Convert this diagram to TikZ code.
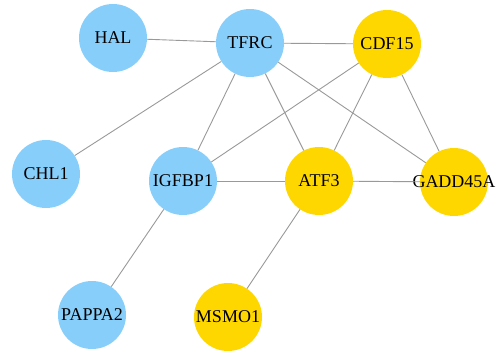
\documentclass[tikz,border=0pt]{standalone}
\usepackage{fontspec}
\setmainfont{Liberation Serif}
\usepackage{tikz}
\usetikzlibrary{shapes}
\definecolor{geneblue}{HTML}{87CEFA}
\definecolor{geneyellow}{HTML}{FFD700}
\tikzstyle{gene} = [circle, minimum size=68pt, inner sep=0pt, font=\fontsize{18}{21}\selectfont]
\tikzstyle{down} = [gene, fill=geneblue]
\tikzstyle{up} = [gene, fill=geneyellow]
\tikzstyle{link} = [draw=black!40, line width=0.9pt]

\begin{document}
\begin{tikzpicture}[x=1pt, y=-1pt]
\useasboundingbox (0,0) rectangle (501,351);
% Nodes
	\node [down] (HAL) at (113,38) {HAL};
	\node [down] (TFRC) at (250,43) {TFRC};
	\node [up] (CDF15) at (387,44) {CDF15};
	\node [down] (CHL1) at (46,174) {CHL1};
	\node [down] (IGFBP1) at (183,181) {IGFBP1};
	\node [up] (ATF3) at (319,181) {ATF3};
	\node [up] (GADD45A) at (454,182) {\makebox[0pt]{GADD45A}};
	\node [down] (PAPPA2) at (92,315) {\makebox[0pt]{PAPPA2}};
	\node [up] (MSMO1) at (228,317) {MSMO1};
% Connections
	\draw [link] (HAL) -- (TFRC);
	\draw [link] (TFRC) -- (CDF15);
	\draw [link] (TFRC) -- (CHL1);
	\draw [link] (TFRC) -- (IGFBP1);
	\draw [link] (TFRC) -- (ATF3);
	\draw [link] (TFRC) -- (GADD45A);
	\draw [link] (CDF15) -- (IGFBP1);
	\draw [link] (CDF15) -- (ATF3);
	\draw [link] (CDF15) -- (GADD45A);
	\draw [link] (IGFBP1) -- (ATF3);
	\draw [link] (ATF3) -- (GADD45A);
	\draw [link] (IGFBP1) -- (PAPPA2);
	\draw [link] (ATF3) -- (MSMO1);
\end{tikzpicture}
\end{document}
